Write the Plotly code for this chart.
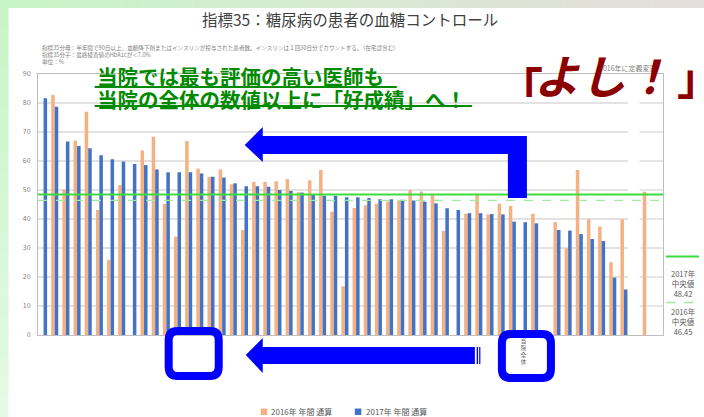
import plotly.graph_objects as go

# ---------------- data ----------------
cats = list(range(56))  # doctors, sorted by 2017 value
y2016 = [None, 82.8, 50.2, 67.0, 77.0, 43.1, 25.9, 51.7, None, 63.6,
         68.4, 45.2, 33.9, 66.9, 57.4, 54.5, 57.1, 52.0, 36.2, 52.8,
         52.8, 53.0, 53.8, 49.2, 53.4, 56.9, 42.5, 16.8, 43.8, 44.7,
         45.3, 46.0, 46.4, 50.0, 49.5, 48.3, 35.9, None, 41.8, 48.8,
         41.6, 45.3, 44.5, None, 41.8, None, 38.9, 29.9, 56.9, 39.9,
         37.4, 25.1, 39.9, None, 49.4, None]
y2017 = [81.6, 78.7, 66.7, 65.2, 64.4, 62.0, 60.6, 59.8, 59.0, 58.6,
         57.1, 56.1, 56.1, 56.1, 55.7, 54.6, 54.3, 52.3, 51.3, 51.3,
         51.1, 50.0, 49.7, 49.1, 48.5, 48.0, 48.0, 47.5, 47.5, 47.2,
         46.8, 46.8, 46.6, 46.4, 46.0, 45.4, 43.7, 43.1, 42.0, 42.0,
         41.7, 41.6, 39.1, 38.9, 38.5, None, 36.2, 36.0, 34.8, 33.1,
         32.4, 19.8, 15.7, None, None, None]
series_names = ["2016年 年間 通算", "2017年 年間 通算"]
tick_vals = [43]
tick_text = ["当<br>院<br>全<br>体"]
median_2017 = 48.42
median_2016 = 46.45
y_ticks = [0, 10, 20, 30, 40, 50, 60, 70, 80, 90]

# ---------------- geometry helpers ----------------
W, H = 704, 417
L, R, T, B = 38.4, 663.0, 74.0, 335.0


def px(x):
    return (x - L) / (R - L)


def py(y):
    return (B - y) / (B - T)


def path_from(points, close=True):
    s = "M " + " L ".join(f"{px(x):.5f},{py(y):.5f}" for x, y in points)
    return s + (" Z" if close else "")


def rrect(x0, y0, x1, y1, r):
    P = lambda x, y: f"{px(x):.5f},{py(y):.5f}"
    return (f"M {P(x0 + r, y0)} L {P(x1 - r, y0)} Q {P(x1, y0)} {P(x1, y0 + r)} "
            f"L {P(x1, y1 - r)} Q {P(x1, y1)} {P(x1 - r, y1)} L {P(x0 + r, y1)} "
            f"Q {P(x0, y1)} {P(x0, y1 - r)} L {P(x0, y0 + r)} Q {P(x0, y0)} {P(x0 + r, y0)} Z")


ORANGE = "#F4B183"
BLUE = "#4472C4"
ARROW = "#0000FF"
RED = "#8B0000"
FONT = "Noto Sans CJK JP"

fig = go.Figure()
fig.add_bar(x=cats, y=y2016, name=series_names[0], marker_color=ORANGE, marker_line_width=0)
fig.add_bar(x=cats, y=y2017, name=series_names[1], marker_color=BLUE, marker_line_width=0)

shapes = []
# background frame (green -> pink gradient on top, green on left)
n = 40
for i in range(n):
    t = i / (n - 1)
    c = (int(200 + (230 - 200) * t), int(245 + (222 - 245) * t), int(200 + (220 - 200) * t))
    shapes.append(dict(type="rect", xref="paper", yref="paper", layer="below",
                       x0=px(W * i / n), x1=px(W * (i + 1) / n + 0.5), y0=py(0), y1=py(8),
                       fillcolor=f"rgb{c}", line_width=0))
m = 20
for i in range(m):
    t = i / (m - 1)
    c = (int(200 + 28 * t), int(245 + 5 * t), int(200 + 28 * t))
    shapes.append(dict(type="rect", xref="paper", yref="paper", layer="below",
                       x0=px(0), x1=px(9), y0=py(8 + (H - 8) * i / m), y1=py(8 + (H - 8) * (i + 1) / m + 0.5),
                       fillcolor=f"rgb{c}", line_width=0))

# gridlines with the break before the last section
for v in y_ticks[1:-1]:
    for a, b in [(-0.5, 52.37), (53.4, 55.5)]:
        shapes.append(dict(type="line", xref="x", yref="y", x0=a, x1=b, y0=v, y1=v,
                           line=dict(color="#d9d9d9", width=1.3), layer="below"))

# median lines
shapes.append(dict(type="line", xref="x", yref="y", x0=-0.5, x1=55.55, y0=median_2017, y1=median_2017,
                   line=dict(color="#3ddc3d", width=2)))
shapes.append(dict(type="line", xref="x", yref="y", x0=-0.5, x1=55.5, y0=median_2016, y1=median_2016,
                   line=dict(color="#9fec9f", width=1.3, dash="dash")))
# right-hand median legend marks
shapes.append(dict(type="line", xref="paper", yref="paper", x0=px(666), x1=px(699), y0=py(256.5), y1=py(256.5),
                   line=dict(color="#3ddc3d", width=2)))
shapes.append(dict(type="line", xref="paper", yref="paper", x0=px(666), x1=px(699), y0=py(302.5), y1=py(302.5),
                   line=dict(color="#9fec9f", width=1.3, dash="dash")))

# bottom legend squares
shapes.append(dict(type="rect", xref="paper", yref="paper", x0=px(261), x1=px(267.5), y0=py(415), y1=py(408.5),
                   fillcolor=ORANGE, line_width=0))
shapes.append(dict(type="rect", xref="paper", yref="paper", x0=px(355), x1=px(361.5), y0=py(415), y1=py(408.5),
                   fillcolor=BLUE, line_width=0))

# blue arrows
upper = [(245, 145), (263, 127), (263, 136), (527, 136), (527, 198), (508, 198),
         (508, 154), (263, 154), (263, 162)]
shapes.append(dict(type="path", xref="paper", yref="paper", path=path_from(upper),
                   fillcolor=ARROW, line_width=0))
lower = [(246, 355), (263, 338), (263, 347), (475, 347), (475, 364), (263, 364), (263, 373)]
shapes.append(dict(type="path", xref="paper", yref="paper", path=path_from(lower),
                   fillcolor=ARROW, line_width=0))
for xa, xb in [(476.8, 478.2), (479.3, 480.5)]:
    shapes.append(dict(type="rect", xref="paper", yref="paper", x0=px(xa), x1=px(xb), y0=py(364), y1=py(347),
                       fillcolor=ARROW, line_width=0))
# rounded boxes
shapes.append(dict(type="path", xref="paper", yref="paper", path=rrect(169, 331, 219, 376, 9),
                   line=dict(color=ARROW, width=8)))
shapes.append(dict(type="path", xref="paper", yref="paper", path=rrect(502, 334, 551, 378, 9),
                   line=dict(color=ARROW, width=8)))

# underlines for green message
shapes.append(dict(type="line", xref="paper", yref="paper", x0=px(95), x1=px(397), y0=py(87), y1=py(87),
                   line=dict(color="#008A00", width=2)))
shapes.append(dict(type="line", xref="paper", yref="paper", x0=px(95), x1=px(472), y0=py(106), y1=py(106),
                   line=dict(color="#008A00", width=2)))

anns = []


def ann(text, x, y, size, color="#595959", xanchor="left", yanchor="middle", weight="normal", align="left", **kw):
    anns.append(dict(text=text, x=px(x), y=py(y), xref="paper", yref="paper", showarrow=False,
                     xanchor=xanchor, yanchor=yanchor, align=align,
                     font=dict(family=FONT, size=size, color=color, weight=weight), **kw))


ann("指標35：糖尿病の患者の血糖コントロール", 350, 19, 15.5, color="#404040", xanchor="center")
ann("指標35分母：半年間で90日以上、血糖降下剤またはインスリンが投与された患者数。インスリンは１回30日分でカウントする。（在宅診含む）",
    40, 48, 5.6, color="#7f7f7f")
ann("指標35分子：最終検査値のHbA1cが＜7.0%", 40, 55, 5.6, color="#7f7f7f")
ann("単位：%", 40, 62, 5.6, color="#7f7f7f")
ann("2016年に定義変更", 597, 68, 7, color="#7f7f7f")

ann("当院では最も評価の高い医師も", 95, 76.5, 20.5, color="#008A00", weight="bold")
ann("当院の全体の数値以上に「好成績」へ！", 95, 98.5, 20.5, color="#008A00", weight="bold")

ann("｢", 518, 86, 46, color=RED, xanchor="left", weight="bold")
ann("<i>よし！</i>", 603, 74, 46, color=RED, xanchor="center", weight="bold")
ann("｣", 701, 76, 44, color=RED, xanchor="right", weight="bold")

ann(f"2017年<br>中央値<br>{median_2017:.2f}", 683, 283, 7.5, xanchor="center", align="center")
ann(f"2016年<br>中央値<br>{median_2016:.2f}", 683, 321, 7.5, xanchor="center", align="center")

ann(series_names[0], 269, 411.5, 8)
ann(series_names[1], 364, 411.5, 8)

fig.update_layout(
    width=W, height=H,
    margin=dict(l=L, r=W - R, t=T, b=H - B, pad=0),
    barmode="group", bargap=0.37, bargroupgap=0,
    showlegend=False,
    paper_bgcolor="white", plot_bgcolor="white",
    font=dict(family=FONT, color="#595959"),
    shapes=shapes, annotations=anns,
    xaxis=dict(range=[-0.5, 55.5], showgrid=False, zeroline=False, showline=True, mirror=True,
               linecolor="#bfbfbf", linewidth=1, tickmode="array", tickvals=tick_vals, ticktext=tick_text,
               tickfont=dict(size=5.5, color="#595959"), ticks=""),
    yaxis=dict(range=[0, 90], tickmode="array", tickvals=y_ticks, showgrid=False, zeroline=False,
               showline=True, mirror=True, linecolor="#bfbfbf", linewidth=1,
               ticks="outside", ticklen=5, tickcolor="rgba(0,0,0,0)",
               tickfont=dict(size=7, color="#7f7f7f")),
)

fig.write_html("out.html")
